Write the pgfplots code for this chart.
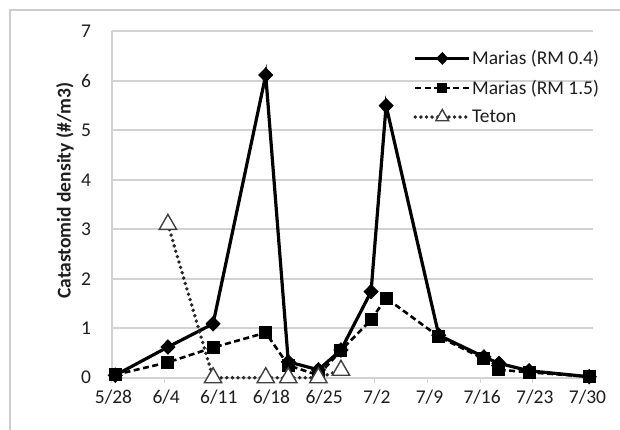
\documentclass[border=0pt]{standalone}
\usepackage{fontspec}
\setmainfont{Carlito}
\usepackage{pgfplots}
\pgfplotsset{compat=1.18}

% Larval catastomid density, Marias and Teton sites; x = days after 5/28 (plotted mid-day)
\pgfplotstableread{
day   dens
0.5   0.05
7.5   0.62
13.5  1.09
20.5  6.12
23.5  0.32
27.5  0.16
30.5  0.56
34.5  1.74
36.5  5.50
43.5  0.86
49.5  0.42
51.5  0.29
55.5  0.14
63.5  0.02
}\mariasA
\pgfplotstableread{
day   dens
0.5   0.06
7.5   0.31
13.5  0.61
20.5  0.91
23.5  0.25
27.5  0.05
30.5  0.55
34.5  1.17
36.5  1.61
43.5  0.83
49.5  0.38
51.5  0.16
55.5  0.11
63.5  0.02
}\mariasB
\pgfplotstableread{
day   dens
7.5   3.10
13.5  0.00
20.5  0.00
23.5  0.00
27.5  0.00
30.5  0.15
}\teton

\definecolor{gridgray}{RGB}{210,210,210}
\definecolor{framegray}{RGB}{205,205,205}
\definecolor{txt}{RGB}{30,30,30}

\begin{document}
\begin{tikzpicture}
\fill[white] (0,0) rectangle (620pt,-430pt);
\draw[framegray, line width=2pt] (10pt,-430pt) -- (10pt,-10pt) -- (620pt,-10pt);
\begin{axis}[
  at={(111.5pt,-377.7pt)}, anchor=south west,
  scale only axis, width=481.5pt, height=346.2pt,
  xmin=0, xmax=64, ymin=0, ymax=7,
  clip=false,
  font=\fontsize{19.5pt}{23pt}\selectfont,
  /pgf/number format/assume math mode=true,
  axis x line*=bottom, axis y line*=left,
  axis line style={gridgray, line width=2pt, -},
  ymajorgrids, grid style={gridgray, line width=2pt},
  xtick={0,7,...,63},
  xticklabels={5/28,6/4,6/11,6/18,6/25,7/2,7/9,7/16,7/23,7/30},
  ytick={0,1,...,7},
  tick align=outside,
  major tick length=5pt,
  xtick style={gridgray, line width=1.2pt},
  ytick style={draw=none},
  tick label style={text=txt},
  xticklabel style={xshift=2pt, yshift=-4pt},
  yticklabel style={xshift=-12pt},
  every axis y label/.style={at={(axis description cs:-0.0966,0.54)}, rotate=90, anchor=center},
  ylabel={\fontsize{19.5pt}{23pt}\selectfont\bfseries Catastomid density (\#/m3)},
  ylabel style={text=txt},
  legend cell align=left,
  legend image code/.code={\draw[mark repeat=2,mark phase=2,#1,every mark/.append style={scale=0.75}] plot coordinates {(0pt,0pt) (27pt,0pt) (54pt,0pt)};},
  legend style={draw=none, fill=none, at={(axis cs:40.1,6.64)}, anchor=north west,
    inner sep=0pt, row sep=12pt, nodes={inner sep=1pt, text=txt, font=\fontsize{19.5pt}{23pt}\selectfont}},
]
\addplot[black, line width=3.2pt, mark=diamond*, mark size=5.5pt,
  mark options={solid, xscale=1.3}] table[x=day, y=dens] {\mariasA};
\addlegendentry{Marias (RM 0.4)}
\addplot[black, line width=2.6pt, dash pattern=on 6pt off 3.5pt, mark=square*, mark size=5.2pt,
  mark options={solid}] table[x=day, y=dens] {\mariasB};
\addlegendentry{Marias (RM 1.5)}
\addplot[black!85, line width=3.8pt, line cap=round, dash pattern=on 0pt off 5.6pt, mark=triangle*, mark size=10pt,
  mark options={solid, fill=white, draw=black!75, line width=1.4pt, line cap=butt}] table[x=day, y=dens] {\teton};
\addlegendentry{Teton}
\end{axis}
\pgfresetboundingbox
\path[use as bounding box] (0,0) rectangle (620pt,-430pt);
\end{tikzpicture}
\end{document}
